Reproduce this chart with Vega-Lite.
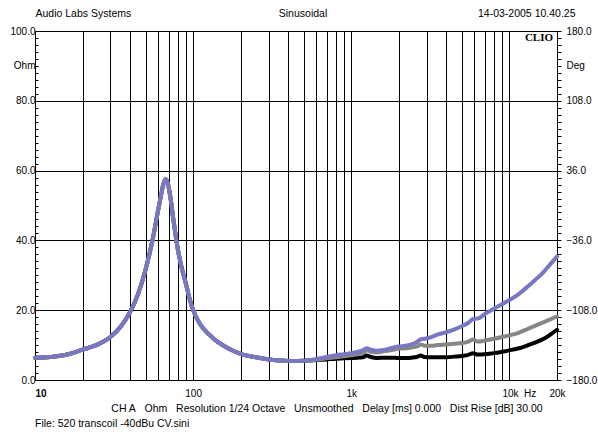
{
  "$schema": "https://vega.github.io/schema/vega-lite/v6.json",
  "width": 522,
  "height": 349,
  "autosize": {"type": "none"},
  "padding": {"left": 35, "top": 31, "right": 41, "bottom": 52},
  "background": "white",
  "config": {
    "view": {"stroke": null},
    "font": "Liberation Sans",
    "axis": {
      "labelColor": "black", "titleColor": "black",
      "labelFont": "Liberation Sans", "titleFont": "Liberation Sans",
      "titleFontWeight": "normal", "titleFontSize": 10.5, "labelFontSize": 10,
      "gridColor": "black", "gridWidth": 1, "domainColor": "black", "tickColor": "black",
      "labelOverlap": false, "labelBound": false, "labelFlush": false
    }
  },
  "title": {
    "text": "File: 520 transcoil -40dBu CV.sini",
    "orient": "bottom", "anchor": "start", "frame": "group",
    "font": "Liberation Sans", "fontSize": 10.5, "fontWeight": "normal", "color": "black",
    "offset": 5
  },
  "layer": [
    {
      "data": {"values": [
        {"f": 10, "Trace 1": 6.4, "Trace 2": 6.4, "Trace 3": 6.4},
        {"f": 12.5, "Trace 1": 6.6, "Trace 2": 6.6, "Trace 3": 6.6},
        {"f": 16, "Trace 1": 7.3, "Trace 2": 7.3, "Trace 3": 7.3},
        {"f": 20, "Trace 1": 8.7, "Trace 2": 8.7, "Trace 3": 8.7},
        {"f": 25, "Trace 1": 10.2, "Trace 2": 10.2, "Trace 3": 10.2},
        {"f": 30, "Trace 1": 12.3, "Trace 2": 12.3, "Trace 3": 12.3},
        {"f": 35, "Trace 1": 15.4, "Trace 2": 15.4, "Trace 3": 15.4},
        {"f": 40, "Trace 1": 19.5, "Trace 2": 19.5, "Trace 3": 19.5},
        {"f": 45, "Trace 1": 24.8, "Trace 2": 24.8, "Trace 3": 24.8},
        {"f": 50, "Trace 1": 31.6, "Trace 2": 31.6, "Trace 3": 31.6},
        {"f": 55, "Trace 1": 39.5, "Trace 2": 39.5, "Trace 3": 39.5},
        {"f": 60, "Trace 1": 48.5, "Trace 2": 48.5, "Trace 3": 48.5},
        {"f": 63, "Trace 1": 53.5, "Trace 2": 53.5, "Trace 3": 53.5},
        {"f": 65, "Trace 1": 56.3, "Trace 2": 56.3, "Trace 3": 56.3},
        {"f": 67, "Trace 1": 57.5, "Trace 2": 57.5, "Trace 3": 57.5},
        {"f": 69, "Trace 1": 56.5, "Trace 2": 56.5, "Trace 3": 56.5},
        {"f": 72, "Trace 1": 52, "Trace 2": 52, "Trace 3": 52},
        {"f": 75, "Trace 1": 46, "Trace 2": 46, "Trace 3": 46},
        {"f": 80, "Trace 1": 37.5, "Trace 2": 37.5, "Trace 3": 37.5},
        {"f": 85, "Trace 1": 31.8, "Trace 2": 31.8, "Trace 3": 31.8},
        {"f": 90, "Trace 1": 27.6, "Trace 2": 27.6, "Trace 3": 27.6},
        {"f": 95, "Trace 1": 23.3, "Trace 2": 23.3, "Trace 3": 23.3},
        {"f": 100, "Trace 1": 20.0, "Trace 2": 20.0, "Trace 3": 20.0},
        {"f": 110, "Trace 1": 16.2, "Trace 2": 16.2, "Trace 3": 16.2},
        {"f": 120, "Trace 1": 14.0, "Trace 2": 14.0, "Trace 3": 14.0},
        {"f": 128, "Trace 1": 12.8, "Trace 2": 12.8, "Trace 3": 12.8},
        {"f": 140, "Trace 1": 11.2, "Trace 2": 11.2, "Trace 3": 11.2},
        {"f": 155, "Trace 1": 9.9, "Trace 2": 9.9, "Trace 3": 9.9},
        {"f": 175, "Trace 1": 8.6, "Trace 2": 8.6, "Trace 3": 8.6},
        {"f": 200, "Trace 1": 7.5, "Trace 2": 7.5, "Trace 3": 7.5},
        {"f": 250, "Trace 1": 6.5, "Trace 2": 6.5, "Trace 3": 6.5},
        {"f": 300, "Trace 1": 5.9, "Trace 2": 5.9, "Trace 3": 5.9},
        {"f": 350, "Trace 1": 5.6, "Trace 2": 5.6, "Trace 3": 5.6},
        {"f": 400, "Trace 1": 5.45, "Trace 2": 5.45, "Trace 3": 5.45},
        {"f": 450, "Trace 1": 5.45, "Trace 2": 5.45, "Trace 3": 5.45},
        {"f": 500, "Trace 1": 5.5, "Trace 2": 5.5, "Trace 3": 5.5},
        {"f": 600, "Trace 1": 6.0, "Trace 2": 5.8, "Trace 3": 5.7},
        {"f": 700, "Trace 1": 6.6, "Trace 2": 6.2, "Trace 3": 5.9},
        {"f": 800, "Trace 1": 7.1, "Trace 2": 6.5, "Trace 3": 6.1},
        {"f": 900, "Trace 1": 7.4, "Trace 2": 6.8, "Trace 3": 6.2},
        {"f": 1000, "Trace 1": 7.7, "Trace 2": 7.1, "Trace 3": 6.3},
        {"f": 1100, "Trace 1": 8.1, "Trace 2": 7.4, "Trace 3": 6.4},
        {"f": 1180, "Trace 1": 8.5, "Trace 2": 7.7, "Trace 3": 6.5},
        {"f": 1250, "Trace 1": 9.1, "Trace 2": 8.5, "Trace 3": 7.0},
        {"f": 1330, "Trace 1": 8.7, "Trace 2": 8.1, "Trace 3": 6.6},
        {"f": 1450, "Trace 1": 8.4, "Trace 2": 7.9, "Trace 3": 6.3},
        {"f": 1600, "Trace 1": 8.6, "Trace 2": 8.2, "Trace 3": 6.4},
        {"f": 1800, "Trace 1": 9.2, "Trace 2": 8.6, "Trace 3": 6.4},
        {"f": 2000, "Trace 1": 9.6, "Trace 2": 9.0, "Trace 3": 6.3},
        {"f": 2200, "Trace 1": 9.8, "Trace 2": 9.1, "Trace 3": 6.3},
        {"f": 2400, "Trace 1": 10.2, "Trace 2": 9.3, "Trace 3": 6.4},
        {"f": 2600, "Trace 1": 10.9, "Trace 2": 9.6, "Trace 3": 6.6},
        {"f": 2750, "Trace 1": 11.7, "Trace 2": 10.2, "Trace 3": 7.0},
        {"f": 2900, "Trace 1": 11.8, "Trace 2": 9.8, "Trace 3": 6.6},
        {"f": 3200, "Trace 1": 12.3, "Trace 2": 9.8, "Trace 3": 6.5},
        {"f": 3500, "Trace 1": 13.0, "Trace 2": 10.0, "Trace 3": 6.5},
        {"f": 4000, "Trace 1": 13.7, "Trace 2": 10.2, "Trace 3": 6.5},
        {"f": 4500, "Trace 1": 14.5, "Trace 2": 10.4, "Trace 3": 6.7},
        {"f": 5000, "Trace 1": 15.4, "Trace 2": 10.6, "Trace 3": 6.9},
        {"f": 5500, "Trace 1": 16.4, "Trace 2": 11.0, "Trace 3": 7.2},
        {"f": 5900, "Trace 1": 17.5, "Trace 2": 11.6, "Trace 3": 7.7},
        {"f": 6300, "Trace 1": 17.6, "Trace 2": 11.0, "Trace 3": 7.3},
        {"f": 7000, "Trace 1": 18.9, "Trace 2": 11.3, "Trace 3": 7.4},
        {"f": 8000, "Trace 1": 20.5, "Trace 2": 11.8, "Trace 3": 7.7},
        {"f": 9000, "Trace 1": 21.7, "Trace 2": 12.3, "Trace 3": 8.1},
        {"f": 10000, "Trace 1": 22.9, "Trace 2": 12.8, "Trace 3": 8.5},
        {"f": 11500, "Trace 1": 24.7, "Trace 2": 13.6, "Trace 3": 9.1},
        {"f": 13000, "Trace 1": 26.7, "Trace 2": 14.6, "Trace 3": 9.9},
        {"f": 14500, "Trace 1": 28.6, "Trace 2": 15.5, "Trace 3": 10.7},
        {"f": 16500, "Trace 1": 31.0, "Trace 2": 16.6, "Trace 3": 11.8},
        {"f": 18000, "Trace 1": 33.0, "Trace 2": 17.3, "Trace 3": 12.9},
        {"f": 20000, "Trace 1": 35.4, "Trace 2": 18.2, "Trace 3": 14.4}
      ]},
      "transform": [{"fold": ["Trace 3", "Trace 2", "Trace 1"], "as": ["trace", "ohm"]}],
      "mark": {"type": "line", "strokeWidth": 4, "strokeJoin": "round", "strokeCap": "round", "interpolate": "monotone"},
      "encoding": {
        "x": {
          "field": "f", "type": "quantitative",
          "scale": {"type": "log", "domain": [10, 20000], "nice": false},
          "axis": {
            "orient": "bottom",
            "values": [10, 20, 30, 40, 50, 60, 70, 80, 90, 100, 200, 300, 400, 500, 600, 700, 800, 900, 1000, 2000, 3000, 4000, 5000, 6000, 7000, 8000, 9000, 10000, 20000],
            "labelExpr": "datum.value === 10 ? '10' : datum.value === 100 ? '100' : datum.value === 1000 ? '1k' : datum.value === 10000 ? '10k\u00a0\u00a0Hz' : datum.value === 20000 ? '20k' : ''",
            "labelAlign": {"condition": {"test": "datum.value === 10 || datum.value === 10000", "value": "left"}, "value": "center"},
            "labelOffset": {"condition": {"test": "datum.value === 10000", "value": -7.5}, "value": 0},
            "labelFontWeight": {"condition": {"test": "datum.value === 10", "value": "bold"}, "value": "normal"},
            "labelBaseline": "middle",
            "labelPadding": 13,
            "ticks": false, "tickSize": 0,
            "grid": true, "domain": true,
            "title": "CH A\u00a0\u00a0\u00a0Ohm\u00a0\u00a0\u00a0Resolution 1/24 Octave\u00a0\u00a0\u00a0Unsmoothed\u00a0\u00a0\u00a0Delay [ms] 0.000\u00a0\u00a0\u00a0Dist Rise [dB] 30.00",
            "titleX": 291.5, "titleY": 28, "titleAlign": "center", "titleBaseline": "middle", "titleAngle": 0
          }
        },
        "y": {
          "field": "ohm", "type": "quantitative",
          "scale": {"domain": [0, 100], "nice": false},
          "axis": {
            "orient": "left",
            "offset": -3,
            "values": [0, 2, 4, 6, 8, 10, 12, 14, 16, 18, 20, 22, 24, 26, 28, 30, 32, 34, 36, 38, 40, 42, 44, 46, 48, 50, 52, 54, 56, 58, 60, 62, 64, 66, 68, 70, 72, 74, 76, 78, 80, 82, 84, 86, 88, 90, 92, 94, 96, 98, 100],
            "labelExpr": "datum.value % 20 === 0 ? format(datum.value, '.1f') : (datum.value === 90 ? 'Ohm' : '')",
            "labelBaseline": "middle",
            "labelPadding": 0,
            "ticks": true, "tickSize": 3,
            "grid": true,
            "gridOpacity": {"condition": {"test": "datum.value % 20 === 0", "value": 1}, "value": 0},
            "domain": false,
            "title": "Audio Labs Systems",
            "titleX": -3, "titleY": -17.5, "titleAlign": "left", "titleBaseline": "middle", "titleAngle": 0
          }
        },
        "color": {
          "field": "trace", "type": "nominal",
          "scale": {"domain": ["Trace 1", "Trace 2", "Trace 3"], "range": ["#7878c2", "#868686", "#000000"]},
          "legend": null
        }
      }
    },
    {
      "data": {"values": [{"label": "CLIO"}]},
      "mark": {"type": "text", "font": "Liberation Serif", "fontWeight": "bold", "fontSize": 11, "align": "right", "baseline": "top", "dx": -4, "dy": 1, "color": "black"},
      "encoding": {
        "text": {"field": "label"},
        "x": {"datum": 20000, "type": "quantitative", "axis": null},
        "y": {"datum": 100, "type": "quantitative", "scale": {"domain": [0, 100], "nice": false}, "axis": null}
      }
    },
    {
      "data": {"values": [{}]},
      "mark": {"type": "point", "opacity": 0},
      "encoding": {
        "x": {
          "datum": 1000, "type": "quantitative",
          "axis": {
            "orient": "top", "labels": false, "ticks": false, "domain": false, "grid": false,
            "title": "Sinusoidal", "titleX": 267.5, "titleY": -17.5, "titleAlign": "center", "titleBaseline": "middle", "titleAngle": 0
          }
        },
        "y": {
          "datum": 0, "type": "quantitative",
          "scale": {"domain": [-180, 180], "nice": false},
          "axis": {
            "orient": "right",
            "values": [-180, -172.8, -165.6, -158.4, -151.2, -144, -136.8, -129.6, -122.4, -115.2, -108, -100.8, -93.6, -86.4, -79.2, -72, -64.8, -57.6, -50.4, -43.2, -36, -28.8, -21.6, -14.4, -7.2, 0, 7.2, 14.4, 21.6, 28.8, 36, 43.2, 50.4, 57.6, 64.8, 72, 79.2, 86.4, 93.6, 100.8, 108, 115.2, 122.4, 129.6, 136.8, 144, 151.2, 158.4, 165.6, 172.8, 180],
            "labelExpr": "(abs(datum.value) === 180 || abs(datum.value) === 108 || abs(datum.value) === 36) ? format(datum.value, '.1f') : (datum.value === 144 ? 'Deg' : '')",
            "labelBaseline": "middle",
            "labelPadding": 5,
            "ticks": true, "tickSize": 4,
            "grid": false, "domain": true,
            "title": "14-03-2005 10.40.25",
            "titleX": 18, "titleY": -17.5, "titleAlign": "right", "titleBaseline": "middle", "titleAngle": 0
          }
        }
      }
    }
  ],
  "resolve": {"scale": {"y": "independent"}, "axis": {"x": "independent", "y": "independent"}}
}
